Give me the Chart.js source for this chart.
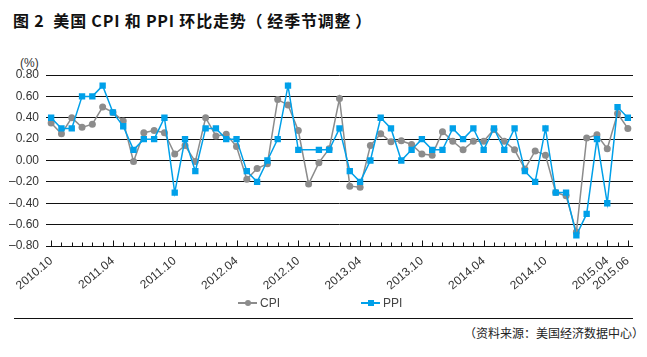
<!DOCTYPE html>
<html><head><meta charset="utf-8">
<script src="https://cdn.jsdelivr.net/npm/chart.js@4.4.1/dist/chart.umd.min.js"></script>
<style>
html,body{margin:0;padding:0;background:#fff;}
body{width:647px;height:357px;position:relative;overflow:hidden;font-family:"Liberation Sans",Arial,sans-serif;color:#222;}
#title{position:absolute;left:13px;top:11px;font-size:16px;line-height:18px;font-weight:bold;letter-spacing:0.8px;font-family:"Noto Sans CJK SC",sans-serif;color:#111;white-space:nowrap;}
#unit{position:absolute;left:20px;top:56px;font-size:12px;line-height:14px;color:#333;}
#chartWrap{position:absolute;left:0;top:0;width:647px;height:300px;}
.leg{position:absolute;top:296px;font-size:12px;line-height:14px;color:#444;white-space:nowrap;}
.leg .ln{display:inline-block;position:relative;width:19px;height:2px;vertical-align:middle;margin-right:3px;top:-1px;}
.leg .mk{position:absolute;left:50%;top:50%;}
#sep{position:absolute;left:14px;top:318px;width:619px;height:0;border-top:1px solid #111;}
#src{position:absolute;left:464px;top:325px;font-size:12px;line-height:16px;font-family:"Noto Sans CJK SC",sans-serif;color:#222;white-space:nowrap;}
</style>
</head><body>
<div id="title">图 2&nbsp; 美国 CPI 和 PPI 环比走势（&thinsp;经季节调整&thinsp;）</div>
<div id="unit">(%)</div>
<div id="chartWrap"><canvas id="c" width="647" height="300"></canvas></div>
<div class="leg" style="left:238px"><span class="ln" style="background:#8c8c8c"><span class="mk" style="width:6px;height:6px;margin:-3px 0 0 -3px;border-radius:50%;background:#8c8c8c"></span></span>CPI</div>
<div class="leg" style="left:361px"><span class="ln" style="background:#00a0e9"><span class="mk" style="width:6px;height:6px;margin:-3px 0 0 -3px;background:#00a0e9"></span></span>PPI</div>
<div id="sep"></div>
<div id="src">（资料来源：美国经济数据中心）</div>
<script>
const months = [
 '2010.10','2010.11','2010.12',
 '2011.01','2011.02','2011.03','2011.04','2011.05','2011.06','2011.07','2011.08','2011.09','2011.10','2011.11','2011.12',
 '2012.01','2012.02','2012.03','2012.04','2012.05','2012.06','2012.07','2012.08','2012.09','2012.10','2012.11','2012.12',
 '2013.01','2013.02','2013.03','2013.04','2013.05','2013.06','2013.07','2013.08','2013.09','2013.10','2013.11','2013.12',
 '2014.01','2014.02','2014.03','2014.04','2014.05','2014.06','2014.07','2014.08','2014.09','2014.10','2014.11','2014.12',
 '2015.01','2015.02','2015.03','2015.04','2015.05','2015.06'
];
const tickLabels = ['2010.10','2011.04','2011.10','2012.04','2012.10','2013.04','2013.10','2014.04','2014.10','2015.04','2015.06'];
const cpi = [
 0.35,0.25,0.40,0.31,0.34,0.50,0.45,0.37,-0.01,0.26,0.28,0.26,
 0.06,0.14,-0.01,0.40,0.23,0.245,0.13,-0.175,-0.075,-0.03,0.57,0.52,
 0.28,-0.22,-0.02,0.11,0.58,-0.24,-0.25,0.14,0.25,0.175,0.185,0.15,
 0.06,0.05,0.27,0.18,0.10,0.18,0.18,0.29,0.18,0.10,-0.08,0.09,
 0.05,-0.30,-0.33,-0.67,0.21,0.24,0.11,0.44,0.30
];
const ppi = [
 0.40,0.30,0.30,0.60,0.60,0.70,0.45,0.32,0.10,0.20,0.20,0.40,
 -0.30,0.20,-0.10,0.30,0.30,0.20,0.20,-0.10,-0.20,0.00,0.20,0.70,
 0.10,null,0.10,0.10,0.30,-0.10,-0.20,0.00,0.40,0.30,0.00,0.10,
 0.20,0.10,0.10,0.30,0.20,0.30,0.10,0.30,0.10,0.30,-0.10,-0.20,
 0.30,-0.30,-0.30,-0.70,-0.50,0.20,-0.40,0.50,0.40
];
const yTicks = { min: -0.8, max: 0.8, step: 0.2 };

const tickMarks = {
  id: 'tickMarks',
  afterDatasetsDraw(chart) {
    const xs = chart.scales.x, ys = chart.scales.y, ctx = chart.ctx;
    const yb = Math.round(ys.getPixelForValue(yTicks.min)) + 0.5;
    ctx.save();
    ctx.strokeStyle = '#111';
    ctx.lineWidth = 1;
    months.forEach((m, i) => {
      const x = Math.round(xs.getPixelForValue(i)) + 0.5;
      const major = tickLabels.includes(m);
      ctx.beginPath();
      ctx.moveTo(x, yb);
      ctx.lineTo(x, yb - (major ? 6 : 4));
      ctx.stroke();
    });
    ctx.restore();
  }
};

new Chart(document.getElementById('c'), {
  type: 'line',
  data: {
    labels: months,
    datasets: [
      { label: 'CPI', data: cpi, borderColor: '#8c8c8c', backgroundColor: '#8c8c8c',
        borderWidth: 1.5, pointStyle: 'circle', pointRadius: 3.5, pointBorderWidth: 0,
        tension: 0, spanGaps: true, order: 2 },
      { label: 'PPI', data: ppi, borderColor: '#00a0e9', backgroundColor: '#00a0e9',
        borderWidth: 1.5, pointStyle: 'rect', pointRadius: 4.5, pointBorderWidth: 0,
        tension: 0, spanGaps: true, order: 1 }
    ]
  },
  options: {
    responsive: false,
    animation: false,
    devicePixelRatio: 1,
    layout: { padding: { left: 0, right: 14, top: 75, bottom: 0 } },
    plugins: { legend: { display: false }, tooltip: { enabled: false }, title: { display: false } },
    scales: {
      x: {
        type: 'category',
        offset: true,
        grid: { display: false, offset: false },
        border: { display: false },
        ticks: {
          autoSkip: false, maxRotation: 40, minRotation: 40, padding: 0,
          color: '#333', font: { family: '"Liberation Sans", Arial, sans-serif', size: 12 },
          callback(v, i) { const l = months[i]; return tickLabels.includes(l) ? l : ''; }
        },
        afterFit(s) { s.height = 54; }
      },
      y: {
        min: yTicks.min, max: yTicks.max,
        grid: { color: '#111', lineWidth: 1, drawTicks: false },
        border: { display: false },
        ticks: {
          stepSize: yTicks.step, padding: 7, color: '#333',
          font: { family: '"Liberation Sans", Arial, sans-serif', size: 12 },
          callback(v) { const n = Math.round(v * 100) / 100; return (n < 0 ? '–' : '') + Math.abs(n).toFixed(2); }
        },
        afterFit(s) { s.width = 46; }
      }
    }
  },
  plugins: [tickMarks]
});
</script>
</body></html>
